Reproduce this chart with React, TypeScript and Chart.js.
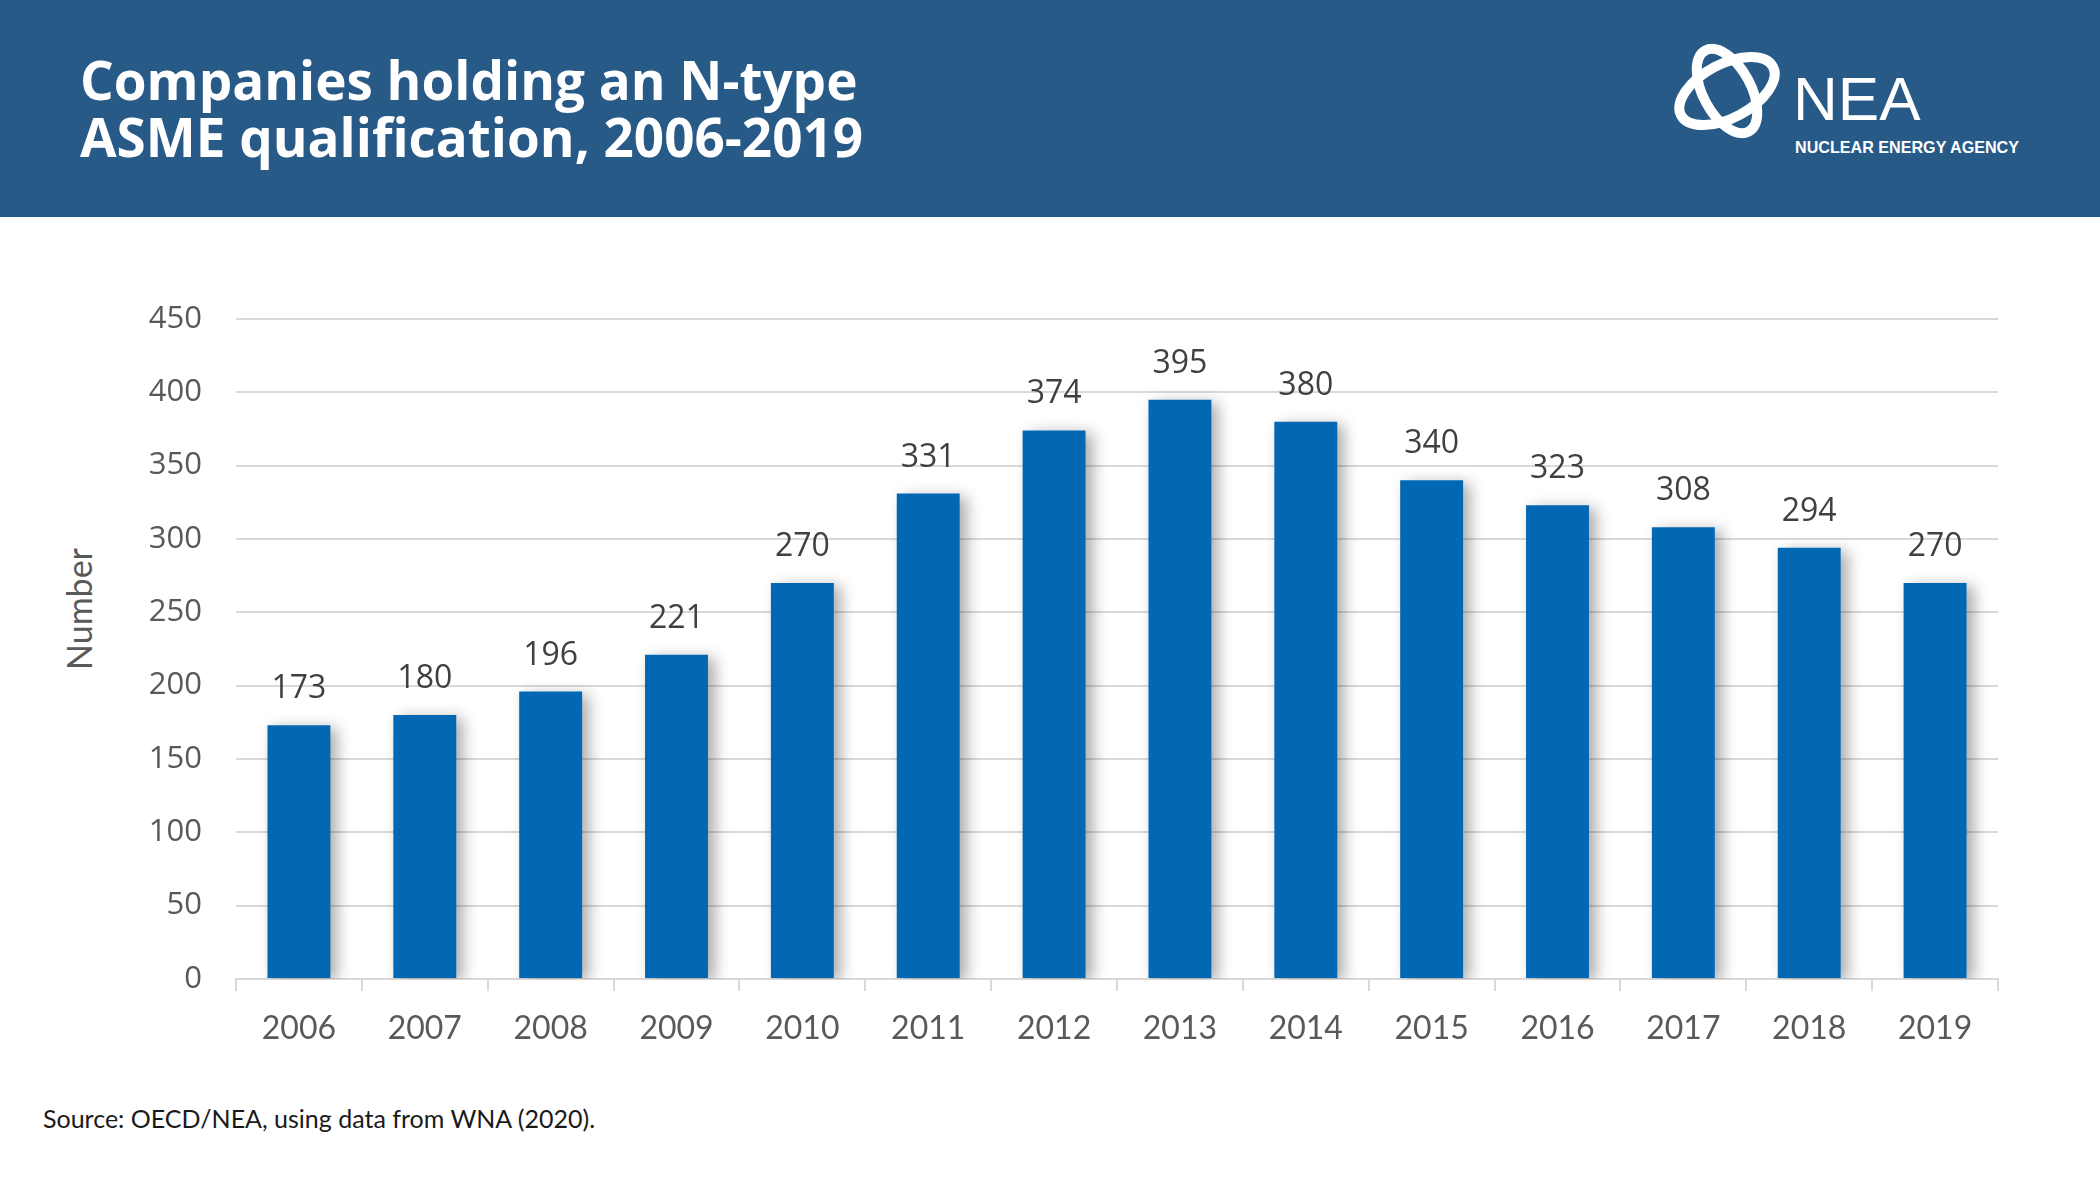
import React, { useEffect, useRef } from "react";
import { Chart, registerables } from "chart.js";

Chart.register(...registerables);

const years = ["2006", "2007", "2008", "2009", "2010", "2011", "2012", "2013", "2014", "2015", "2016", "2017", "2018", "2019"];
const companies = [173, 180, 196, 221, 270, 331, 374, 395, 380, 340, 323, 308, 294, 270];
const yMin = 0;
const yMax = 450;
const yStep = 50;

const titleLines = ["Companies holding an N-type", "ASME qualification, 2006-2019"];
const sourceText = "Source: OECD/NEA, using data from WNA (2020).";
const yAxisTitle = "Number";

const BAR_COLOR = "#0368B3";
const HEADER_COLOR = "#285A88";
const GRID_COLOR = "#D9D9D9";
const TICK_COLOR = "#595959";

const shadowPlugin = {
  id: "barShadow",
  beforeDatasetDraw(chart: any) {
    const ctx = chart.ctx;
    ctx.save();
    ctx.shadowColor = "rgba(0,0,0,0.33)";
    ctx.shadowBlur = 14;
    ctx.shadowOffsetX = 7;
    ctx.shadowOffsetY = 3;
  },
  afterDatasetDraw(chart: any) {
    chart.ctx.restore();
  },
};

const labelPlugin = {
  id: "barLabels",
  afterDatasetsDraw(chart: any) {
    const ctx = chart.ctx;
    const meta = chart.getDatasetMeta(0);
    const data = chart.data.datasets[0].data;
    ctx.save();
    ctx.font = "32px 'Open Sans'";
    ctx.fillStyle = "#404040";
    ctx.textAlign = "center";
    ctx.textBaseline = "alphabetic";
    meta.data.forEach((bar: any, i: number) => {
      ctx.fillText(String(data[i]), bar.x, bar.y - 27);
    });
    ctx.restore();
  },
};

export default function App() {
  const canvasRef = useRef<HTMLCanvasElement | null>(null);

  useEffect(() => {
    if (!canvasRef.current) return;
    const chart = new Chart(canvasRef.current, {
      type: "bar",
      data: {
        labels: years,
        datasets: [
          {
            data: companies,
            backgroundColor: BAR_COLOR,
            borderWidth: 0,
            barPercentage: 0.5,
            categoryPercentage: 1,
          },
        ],
      },
      options: {
        responsive: false,
        animation: false,
        devicePixelRatio: 1,
        layout: { padding: { top: 59, right: 102, left: 0, bottom: 0 } },
        plugins: {
          legend: { display: false },
          tooltip: { enabled: false },
        },
        scales: {
          y: {
            min: yMin,
            max: yMax,
            ticks: {
              stepSize: yStep,
              color: TICK_COLOR,
              font: { family: "'Open Sans'", size: 31 },
              padding: 34,
            },
            grid: { color: GRID_COLOR, lineWidth: 2, drawTicks: false },
            border: { display: false },
            afterFit: (s: any) => {
              s.width = 236;
            },
          },
          x: {
            ticks: {
              color: TICK_COLOR,
              font: { family: "Lato", size: 32 },
              padding: 18,
            },
            grid: {
              display: true,
              drawOnChartArea: false,
              drawTicks: true,
              tickLength: 12,
              color: GRID_COLOR,
              lineWidth: 2,
              offset: true,
            },
            border: { display: true, color: GRID_COLOR, width: 2 },
            afterFit: (s: any) => {
              s.height = 100;
            },
          },
        },
      },
      plugins: [shadowPlugin, labelPlugin],
    });
    return () => chart.destroy();
  }, []);

  return (
    <div style={{ position: "absolute", left: 0, top: 0, width: 2100, height: 1181, background: "#fff", overflow: "hidden" }}>
      <svg width={2100} height={1181} style={{ position: "absolute", left: 0, top: 0 }}>
        <rect x={0} y={0} width={2100} height={217} fill={HEADER_COLOR} />
        <text x={80} y={100} fill="#fff" fontFamily="'Open Sans'" fontWeight={700} fontSize={53}>
          {titleLines[0]}
        </text>
        <text x={80} y={157} fill="#fff" fontFamily="'Open Sans'" fontWeight={700} fontSize={53}>
          {titleLines[1]}
        </text>
        <g transform="translate(1727,91)" fill="none" stroke="#fff">
          <ellipse cx={0} cy={0} rx={52} ry={27} strokeWidth={10} transform="rotate(-28)" />
          <ellipse cx={0} cy={0} rx={46} ry={24} strokeWidth={10} transform="rotate(62)" />
        </g>
        <text x={1793} y={120} fill="#fff" fontFamily="'Liberation Sans'" fontSize={62}>
          NEA
        </text>
        <text x={1795} y={153} fill="#fff" fontFamily="'Liberation Sans'" fontWeight={700} fontSize={17} textLength={224} lengthAdjust="spacingAndGlyphs">
          NUCLEAR ENERGY AGENCY
        </text>
        <text transform="translate(92,609) rotate(-90)" textAnchor="middle" fill={TICK_COLOR} fontFamily="Lato" fontSize={34}>
          {yAxisTitle}
        </text>
        <text x={43} y={1128} fill="#1A1A1A" fontFamily="Lato" fontSize={25}>
          {sourceText}
        </text>
      </svg>
      <canvas
        ref={canvasRef}
        width={2100}
        height={819}
        style={{ position: "absolute", left: 0, top: 260, width: 2100, height: 819 }}
      />
    </div>
  );
}
